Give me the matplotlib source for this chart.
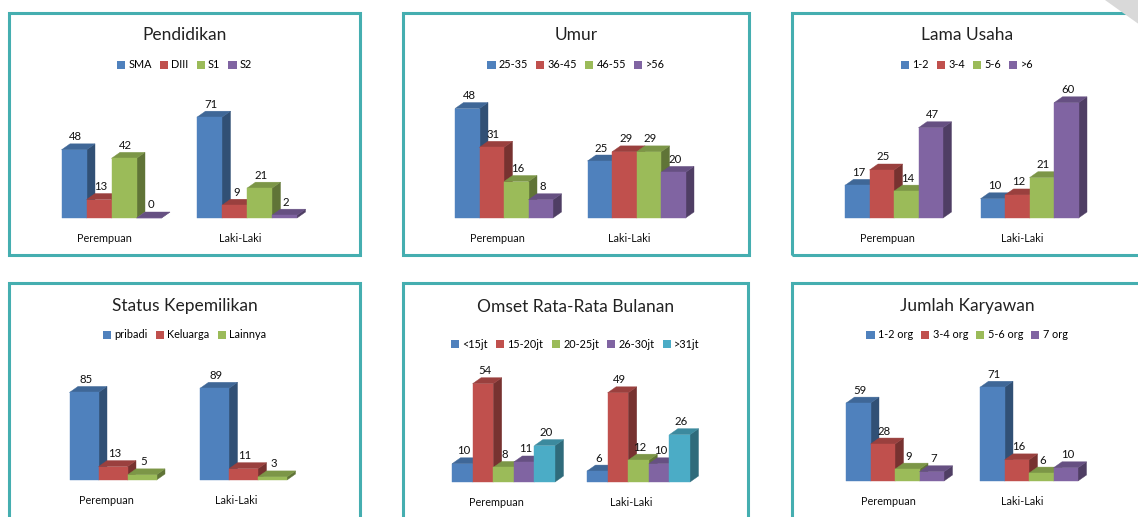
import matplotlib
matplotlib.use('Agg')
import matplotlib.pyplot as plt
from matplotlib.patches import Polygon, Rectangle, Patch
from matplotlib.colors import to_rgb

plt.rcParams['font.family'] = ['Lato', 'DejaVu Sans']

groups = ['Perempuan', 'Laki-Laki']

pendidikan_cats = ['SMA', 'DIII', 'S1', 'S2']
pendidikan_perempuan = [48, 13, 42, 0]
pendidikan_laki = [71, 9, 21, 2]

umur_cats = ['25-35', '36-45', '46-55', '>56']
umur_perempuan = [48, 31, 16, 8]
umur_laki = [25, 29, 29, 20]

usaha_cats = ['1-2', '3-4', '5-6', '>6']
usaha_perempuan = [17, 25, 14, 47]
usaha_laki = [10, 12, 21, 60]

status_cats = ['pribadi', 'Keluarga', 'Lainnya']
status_perempuan = [85, 13, 5]
status_laki = [89, 11, 3]

omset_cats = ['<15jt', '15-20jt', '20-25jt', '26-30jt', '>31jt']
omset_perempuan = [10, 54, 8, 11, 20]
omset_laki = [6, 49, 12, 10, 26]

karyawan_cats = ['1-2 org', '3-4 org', '5-6 org', '7 org']
karyawan_perempuan = [59, 28, 9, 7]
karyawan_laki = [71, 16, 6, 10]

colors = ['#4f81bd', '#c0504d', '#9bbb59', '#8064a2', '#4bacc6']
border = '#45aeb0'

W, H = 1138, 517
fig = plt.figure(figsize=(W / 100, H / 100), dpi=100)
fig.patch.set_facecolor('white')


def fx(x):
    return x / W


def fy(y):
    return 1 - y / H


def shade(c, f):
    r, g, b = to_rgb(c)
    return (r * f, g * f, b * f)


def panel(title, cats, perempuan, laki, box, c1, c2, base, ppu, bar_px, title_y, legend_y):
    l, t, r, b = box
    fig.patches.append(Rectangle((fx(l), fy(b)), (r - l) / W, (b - t) / H, transform=fig.transFigure,
                                 fill=False, edgecolor=border, linewidth=2.2))
    cx = (l + r) / 2
    fig.text(fx(cx), fy(title_y), title, ha='center', va='center', fontsize=12.5, color='#222222')
    handles = [Patch(facecolor=colors[i], label=cats[i]) for i in range(len(cats))]
    fig.legend(handles=handles, loc='center', bbox_to_anchor=(fx(cx), fy(legend_y)), ncol=len(cats),
               frameon=False, fontsize=7.8, handlelength=0.75, handleheight=0.75, handletextpad=0.3,
               columnspacing=0.75, borderpad=0, borderaxespad=0)

    unit = c2 - c1
    height = 130
    left = c1 - 0.75 * unit
    ax = fig.add_axes([fx(left), fy(base), 2.5 * unit / W, height / H])
    ax.set_xlim(-0.75, 1.75)
    ax.set_ylim(0, height / ppu)
    ax.axis('off')

    n = len(cats)
    bw = bar_px / unit
    dx = 8.5 / unit
    dy = 6 / ppu
    z = 2
    for gi, vals in enumerate([perempuan, laki]):
        for i, v in enumerate(vals):
            c = colors[i]
            x0 = gi + (i - n / 2) * bw
            x1 = x0 + bw
            side = Polygon([(x1, 0), (x1 + dx, dy), (x1 + dx, v + dy), (x1, v)], closed=True,
                           facecolor=shade(c, 0.62), edgecolor=shade(c, 0.62), linewidth=0.3,
                           zorder=z, clip_on=False)
            top = Polygon([(x0, v), (x1, v), (x1 + dx, v + dy), (x0 + dx, v + dy)], closed=True,
                          facecolor=shade(c, 0.8), edgecolor=shade(c, 0.8), linewidth=0.3,
                          zorder=z + 1, clip_on=False)
            ax.add_patch(side)
            ax.add_patch(top)
            ax.bar(x0, v, width=bw, align='edge', color=c, edgecolor=c, linewidth=0.3, zorder=z + 2,
                   clip_on=False)
            ax.text(x0 + bw / 2 + dx * 0.2, v + dy + 1.5 / ppu, str(v), ha='center', va='bottom',
                    fontsize=8.2, color='#111111', zorder=200)
            z += 3
        ax.annotate(groups[gi], xy=(gi, 0), xytext=(-5, -14.5), textcoords='offset points',
                    ha='center', va='center', fontsize=7.8, color='#111111')


panel('Pendidikan', pendidikan_cats, pendidikan_perempuan, pendidikan_laki,
      (9, 13, 360, 255), 111.5, 247, 218, 1.42, 25, 35, 65)
panel('Umur', umur_cats, umur_perempuan, umur_laki,
      (403, 13, 749, 255), 504, 636.5, 218, 2.28, 24.5, 35, 65)
panel('Lama Usaha', usaha_cats, usaha_perempuan, usaha_laki,
      (792, 13, 1142, 255), 894, 1029.5, 218, 1.92, 24.5, 35, 65)
panel('Status Kepemilikan', status_cats, status_perempuan, status_laki,
      (9, 283, 360, 540), 113, 243.5, 480, 1.03, 29, 306, 335)
panel('Omset Rata-Rata Bulanan', omset_cats, omset_perempuan, omset_laki,
      (403, 283, 748, 540), 503.5, 638.5, 482, 1.82, 20.6, 307, 344)
panel('Jumlah Karyawan', karyawan_cats, karyawan_perempuan, karyawan_laki,
      (792, 283, 1142, 540), 895, 1029, 481, 1.32, 24.5, 306, 335)

# page curl in the top right corner
fig.patches.append(Polygon([(fx(1105), fy(0)), (fx(1140), fy(0)), (fx(1140), fy(25))], closed=True,
                           transform=fig.transFigure, facecolor='#d9d9d9', edgecolor='none'))

fig.savefig('out.png', dpi=100)
